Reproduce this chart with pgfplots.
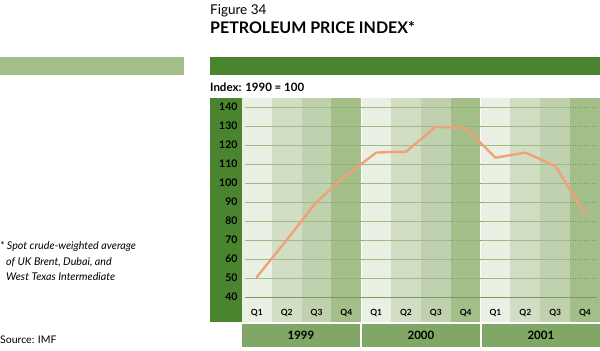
\documentclass[border=0pt]{standalone}
\usepackage{pgfplots}
\pgfplotsset{compat=1.18}
\usepackage{fontspec}
\setmainfont{Lato}
\definecolor{darkg}{RGB}{74,132,46}
\definecolor{lightbar}{RGB}{164,190,138}
\definecolor{qa}{RGB}{234,240,228}
\definecolor{qb}{RGB}{210,222,196}
\definecolor{qc}{RGB}{191,209,174}
\definecolor{qd}{RGB}{164,190,138}
\definecolor{yearc}{RGB}{128,167,101}
\definecolor{linec}{RGB}{240,162,118}
\definecolor{gridc}{RGB}{160,186,134}
\definecolor{basec}{RGB}{120,156,92}
\begin{document}
\begin{tikzpicture}
\path (0pt,0pt) rectangle (600pt,351pt);
% header
\node[anchor=west,inner sep=0pt,font=\fontsize{13.5}{15}\selectfont] at (210pt,340pt) {Figure 34};
\node[anchor=west,inner sep=0pt,font=\fontsize{16}{18}\selectfont\bfseries] at (210pt,323pt) {PETROLEUM PRICE INDEX*};
\fill[lightbar] (0pt,276pt) rectangle (184pt,294pt);
\fill[darkg] (210pt,276pt) rectangle (600pt,294pt);
\node[anchor=west,inner sep=0pt,font=\fontsize{11.5}{13}\selectfont\bfseries] at (210pt,264pt) {Index: 1990 = 100};
% y strip
\fill[darkg] (210pt,29pt) rectangle (242pt,253pt);
% footnote
\node[anchor=north west,inner sep=0pt,align=left,font=\fontsize{10.7}{15.5}\selectfont\itshape] at (0pt,109.5pt) {* Spot crude-weighted average\\\hspace*{6pt}of UK Brent, Dubai, and\\\hspace*{6pt}West Texas Intermediate};
\node[anchor=west,inner sep=0pt,font=\fontsize{10.5}{12}\selectfont] at (0pt,11pt) {Source: IMF};
% year boxes
\fill[yearc] (242pt,4pt) rectangle (360pt,27pt);
\fill[yearc] (362pt,4pt) rectangle (480pt,27pt);
\fill[yearc] (482pt,4pt) rectangle (600pt,27pt);
\node[font=\fontsize{11.5}{13}\selectfont\bfseries] at (301pt,15.5pt) {1999};
\node[font=\fontsize{11.5}{13}\selectfont\bfseries] at (421pt,15.5pt) {2000};
\node[font=\fontsize{11.5}{13}\selectfont\bfseries] at (541pt,15.5pt) {2001};
\begin{axis}[
  at={(242pt,29pt)}, anchor=south west, scale only axis,
  width=358pt, height=224pt,
  xmin=0, xmax=12, ymin=26.84, ymax=144.74,
  axis line style={draw=none},
  ytick={40,50,...,140},
  xtick=\empty,
  major tick length=0pt,
  /pgf/number format/assume math mode=true,
  yticklabel style={font=\fontsize{10.5}{12}\selectfont\bfseries, xshift=-1pt},
  clip=false,
]
\fill[qa] (axis cs:0,26.84) rectangle (axis cs:1,144.74);
\fill[qb] (axis cs:1,26.84) rectangle (axis cs:2,144.74);
\fill[qc] (axis cs:2,26.84) rectangle (axis cs:3,144.74);
\fill[qd] (axis cs:3,26.84) rectangle (axis cs:4,144.74);
\fill[qa] (axis cs:4,26.84) rectangle (axis cs:5,144.74);
\fill[qb] (axis cs:5,26.84) rectangle (axis cs:6,144.74);
\fill[qc] (axis cs:6,26.84) rectangle (axis cs:7,144.74);
\fill[qd] (axis cs:7,26.84) rectangle (axis cs:8,144.74);
\fill[qa] (axis cs:8,26.84) rectangle (axis cs:9,144.74);
\fill[qb] (axis cs:9,26.84) rectangle (axis cs:10,144.74);
\fill[qc] (axis cs:10,26.84) rectangle (axis cs:11,144.74);
\fill[qd] (axis cs:11,26.84) rectangle (axis cs:12,144.74);
\draw[white, line width=0.8pt] (axis cs:4,26.84) -- (axis cs:4,144.74);
\draw[white, line width=0.8pt] (axis cs:8,26.84) -- (axis cs:8,144.74);
\pgfplotsinvokeforeach{50,60,...,140}{
  \draw[gridc, line width=0.6pt] (axis cs:0.1,#1) -- (axis cs:3,#1);
  \draw[gridc, line width=0.6pt] (axis cs:4,#1) -- (axis cs:7,#1);
  \draw[gridc, line width=0.6pt] (axis cs:8,#1) -- (axis cs:11,#1);
  \draw[basec, line width=0.7pt, dotted] (axis cs:3,#1) -- (axis cs:4,#1);
  \draw[basec, line width=0.7pt, dotted] (axis cs:7,#1) -- (axis cs:8,#1);
  \draw[basec, line width=0.7pt, dotted] (axis cs:11,#1) -- (axis cs:11.9,#1);
}
\draw[basec, line width=0.8pt] (axis cs:0.1,40) -- (axis cs:11.9,40);
\pgfplotsinvokeforeach{0,1,2}{
  \node[font=\fontsize{8.5}{10}\selectfont\bfseries] at (axis cs:4*#1+0.5,31.5) {Q1};
  \node[font=\fontsize{8.5}{10}\selectfont\bfseries] at (axis cs:4*#1+1.5,31.5) {Q2};
  \node[font=\fontsize{8.5}{10}\selectfont\bfseries] at (axis cs:4*#1+2.5,31.5) {Q3};
  \node[font=\fontsize{8.5}{10}\selectfont\bfseries] at (axis cs:4*#1+3.5,31.5) {Q4};
}
\addplot[color=linec, line width=2.4pt, line join=round, line cap=round] coordinates {
  (0.5,50.5) (1.5,70) (2.5,90) (3.5,104) (4.5,116) (5.5,116.5)
  (6.5,129.5) (7.5,129) (8.5,113.3) (9.5,116) (10.5,109) (11.5,84)
};
\end{axis}
\end{tikzpicture}
\end{document}
